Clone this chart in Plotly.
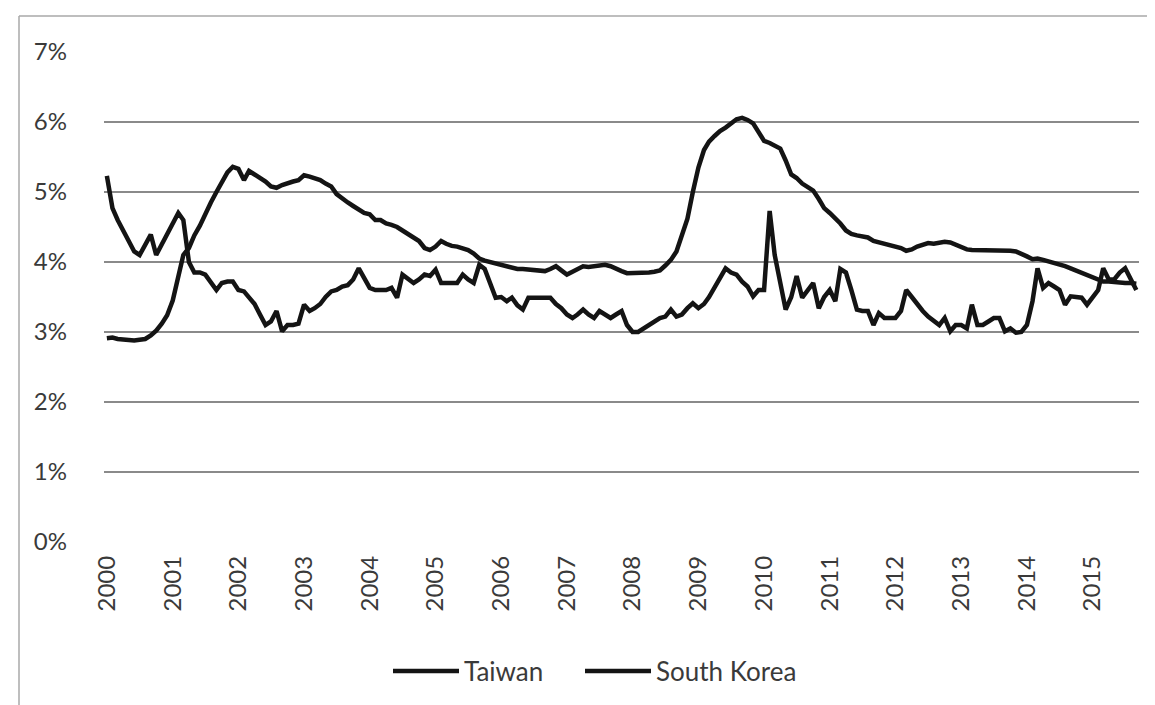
import pandas as pd
import plotly.graph_objects as go

months = pd.date_range("2000-01-01", "2015-09-01", freq="MS")

taiwan = [
    # 2000
    2.91, 2.92, 2.90, 2.89, 2.88, 2.88, 2.89, 2.90, 2.95, 3.02, 3.12, 3.24,
    # 2001
    3.45, 3.80, 4.10, 4.20, 4.38, 4.52, 4.70, 4.85, 5.00, 5.15, 5.28, 5.36,
    # 2002
    5.33, 5.17, 5.30, 5.25, 5.20, 5.15, 5.08, 5.06, 5.10, 5.13, 5.15, 5.17,
    # 2003
    5.24, 5.22, 5.20, 5.17, 5.12, 5.08, 4.97, 4.90, 4.85, 4.80, 4.75, 4.70,
    # 2004
    4.68, 4.60, 4.60, 4.55, 4.53, 4.50, 4.45, 4.40, 4.35, 4.30, 4.20, 4.17,
    # 2005
    4.22, 4.30, 4.26, 4.23, 4.22, 4.20, 4.17, 4.12, 4.05, 4.02, 4.00, 3.97,
    # 2006
    3.95, 3.93, 3.92, 3.90, 3.90, 3.89, 3.88, 3.88, 3.87, 3.90, 3.94, 3.88,
    # 2007
    3.82, 3.86, 3.90, 3.94, 3.93, 3.94, 3.95, 3.96, 3.94, 3.90, 3.87, 3.84,
    # 2008
    3.84, 3.84, 3.85, 3.85, 3.86, 3.88, 3.95, 4.03, 4.15, 4.38, 4.62, 5.00,
    # 2009
    5.35, 5.60, 5.72, 5.80, 5.87, 5.92, 5.98, 6.04, 6.06, 6.03, 5.98, 5.85,
    # 2010
    5.73, 5.70, 5.67, 5.62, 5.45, 5.25, 5.20, 5.12, 5.07, 5.02, 4.90, 4.77,
    # 2011
    4.70, 4.63, 4.55, 4.45, 4.40, 4.38, 4.37, 4.35, 4.30, 4.28, 4.27, 4.25,
    # 2012
    4.22, 4.20, 4.16, 4.18, 4.22, 4.25, 4.27, 4.26, 4.27, 4.29, 4.28, 4.25,
    # 2013
    4.22, 4.18, 4.17, 4.17, 4.16, 4.17, 4.16, 4.16, 4.16, 4.16, 4.15, 4.12,
    # 2014
    4.08, 4.04, 4.05, 4.03, 4.01, 3.99, 3.96, 3.94, 3.91, 3.88, 3.85, 3.82,
    # 2015
    3.78, 3.75, 3.72, 3.72, 3.71, 3.70, 3.70, 3.70, 3.69,
]

south_korea = [
    # 2000
    5.23, 4.77, 4.60, 4.45, 4.30, 4.15, 4.10, 4.25, 4.39, 4.10, 4.25, 4.40,
    # 2001
    4.55, 4.70, 4.60, 4.00, 3.85, 3.85, 3.82, 3.70, 3.60, 3.70, 3.72, 3.72,
    # 2002
    3.60, 3.58, 3.50, 3.40, 3.25, 3.10, 3.15, 3.30, 3.01, 3.10, 3.10, 3.12,
    # 2003
    3.39, 3.30, 3.34, 3.40, 3.50, 3.58, 3.60, 3.65, 3.67, 3.75, 3.91, 3.77,
    # 2004
    3.63, 3.60, 3.60, 3.60, 3.63, 3.49, 3.82, 3.75, 3.70, 3.75, 3.82, 3.80,
    # 2005
    3.89, 3.70, 3.70, 3.70, 3.70, 3.82, 3.75, 3.70, 3.96, 3.90, 3.67, 3.49,
    # 2006
    3.50, 3.44, 3.49, 3.38, 3.32, 3.49, 3.49, 3.49, 3.49, 3.49, 3.40, 3.34,
    # 2007
    3.25, 3.20, 3.25, 3.32, 3.25, 3.20, 3.30, 3.25, 3.20, 3.25, 3.30, 3.10,
    # 2008
    3.00, 3.00, 3.05, 3.10, 3.15, 3.20, 3.22, 3.32, 3.22, 3.25, 3.34, 3.41,
    # 2009
    3.34, 3.40, 3.50, 3.63, 3.75, 3.91, 3.85, 3.82, 3.72, 3.65, 3.51, 3.60,
    # 2010
    3.60, 4.73, 4.10, 3.70, 3.32, 3.50, 3.80, 3.49, 3.60, 3.70, 3.34, 3.50,
    # 2011
    3.60, 3.44, 3.90, 3.85, 3.60, 3.32, 3.30, 3.30, 3.10, 3.27, 3.20, 3.20,
    # 2012
    3.20, 3.30, 3.60, 3.50, 3.39, 3.30, 3.22, 3.15, 3.10, 3.20, 3.01, 3.10,
    # 2013
    3.10, 3.05, 3.39, 3.10, 3.10, 3.15, 3.20, 3.20, 3.01, 3.05, 2.99, 3.00,
    # 2014
    3.10, 3.44, 3.91, 3.63, 3.70, 3.65, 3.60, 3.39, 3.51, 3.50, 3.49, 3.39,
    # 2015
    3.49, 3.60, 3.91, 3.75, 3.75, 3.85, 3.91, 3.75, 3.60,
]

year_labels = [str(y) for y in range(2000, 2016)]
year_ticks = [f"{y}-01-01" for y in range(2000, 2016)]
y_ticks = [0, 1, 2, 3, 4, 5, 6, 7]
y_labels = [f"{v}%" for v in y_ticks]

FONT = "Lato, 'Open Sans', sans-serif"
TEXT = "#3a3a3a"

fig = go.Figure()
fig.add_trace(go.Scatter(x=months, y=taiwan, mode="lines", name="Taiwan",
                         legend="legend",
                         line=dict(color="#141414", width=4.5)))
fig.add_trace(go.Scatter(x=months, y=south_korea, mode="lines", name="South Korea",
                         legend="legend2",
                         line=dict(color="#141414", width=4.5)))

W, H = 1155, 705
L, R, T, B = 96, 24, 44, 171
pw, ph = W - L - R, H - T - B

def px_x(p):
    return (p - L) / pw

def px_y(p):
    return (H - B - p) / ph

legend_common = dict(orientation="h", xanchor="left", y=px_y(663), yanchor="middle",
                     font=dict(size=26, color=TEXT), itemwidth=66, bgcolor="rgba(0,0,0,0)")

fig.update_layout(
    width=W, height=H,
    margin=dict(l=L, r=R, t=T, b=B),
    paper_bgcolor="white", plot_bgcolor="white",
    font=dict(family=FONT, size=24, color=TEXT),
    showlegend=True,
    legend=dict(x=px_x(380), **legend_common),
    legend2=dict(x=px_x(572), **legend_common),
    xaxis=dict(type="date", range=["1999-12-16", "2015-09-16"],
               tickvals=year_ticks, ticktext=year_labels, tickangle=-90,
               showgrid=False, zeroline=False, showline=False, ticks="",
               ticklabelstandoff=8, tickfont=dict(size=24, color=TEXT)),
    yaxis=dict(range=[0, 7], tickvals=y_ticks, ticktext=y_labels,
               showgrid=True, gridcolor="#8a8a8a", gridwidth=1.5,
               zeroline=False, showline=False, ticks="",
               ticklabelstandoff=36, tickfont=dict(size=24, color=TEXT)),
    shapes=[
        dict(type="line", xref="paper", yref="paper",
             x0=px_x(11), x1=px_x(11), y0=px_y(705), y1=px_y(8),
             line=dict(color="#a8a8a8", width=1.5), layer="below"),
        dict(type="line", xref="paper", yref="paper",
             x0=px_x(11), x1=px_x(1155), y0=px_y(8), y1=px_y(8),
             line=dict(color="#a8a8a8", width=1.5), layer="below"),
    ],
)

fig.write_html("out.html")
